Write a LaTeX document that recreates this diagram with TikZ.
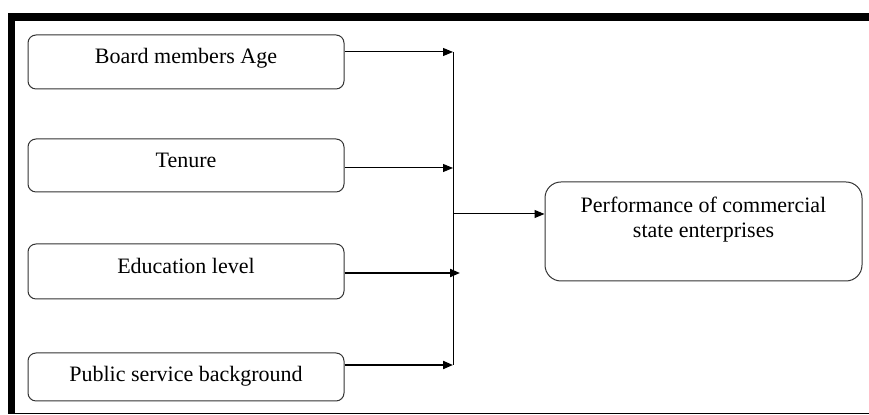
\documentclass[tikz,border=0pt]{standalone}
\usepackage{fontspec}
\setmainfont{Liberation Serif}
\usetikzlibrary{arrows.meta}

\begin{document}
\begin{tikzpicture}[x=0.5pt,y=-0.5pt,
	factor/.style={draw=black!80,line width=0.5pt,rounded corners=4pt,minimum width=158pt,minimum height=27pt,inner sep=0pt,font=\fontsize{11}{12.6}\selectfont,text height=7.5pt,text depth=5.5pt},
	outcome/.style={factor,minimum width=158.5pt,minimum height=49.5pt,rounded corners=8pt,align=center,text height=20.1pt,text depth=13.7pt},
	flow/.style={line width=0.5pt,-{Triangle[length=5pt,width=4pt]}},
	boldflow/.style={flow,line width=1pt}]
	\useasboundingbox (0,0) rectangle (869,415);
	\fill (8,13) rectangle (869,21);
	\fill (8,13) rectangle (15,414);
	\draw[line width=0.8pt] (8,413.5) -- (869,413.5);

	\node[factor] (age) at (186,62) {Board members Age};
	\node[factor,minimum height=26.5pt] (tenure) at (186,165.5) {Tenure};
	\node[factor,minimum height=27.5pt] (edu) at (186,271.5) {Education level};
	\node[factor,minimum height=24pt,text depth=3.2pt] (public) at (186,377) {Public service background};
	\node[outcome] (perf) at (703.5,231.5) {Performance of commercial\\state enterprises};

	\coordinate (b1) at (453,52);
	\coordinate (b2) at (453,168);
	\coordinate (b3) at (460,273);
	\coordinate (b4) at (453,365);
	\coordinate (hub) at (453,214);

	\draw[line width=0.5pt] (b1) -- (b4);
	\draw[flow] (age.east |- b1) -- (b1);
	\draw[flow] (tenure.east |- b2) -- (b2);
	\draw[boldflow] (edu.east |- b3) -- (b3);
	\draw[boldflow] (public.east |- b4) -- (b4);
	\draw[flow] (hub) -- (hub -| perf.west);
\end{tikzpicture}
\end{document}
